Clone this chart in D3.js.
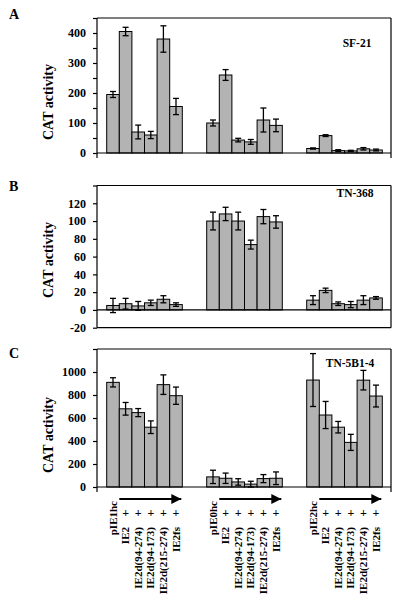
<!DOCTYPE html>
<html><head><meta charset="utf-8">
<script src="https://cdn.jsdelivr.net/npm/d3@7"></script>
<style>
body{margin:0;background:#fff;}
text{font-family:"Liberation Serif","Times New Roman",serif;}
</style></head>
<body><svg id="c" width="400" height="603"></svg>
<script>
const groups = ["pIE1hc","pIE0hc","pIE2hc"];
const constructs = ["", "IE2","IE2d(94-274)","IE2d(94-173)","IE2d(215-274)","IE2fs"];
const cellLines = ["SF-21","TN-368","TN-5B1-4"];
const panelLetters = ["A","B","C"];

const valuesA = [[195,405,70,60,380,155],[100,260,43,37,110,92],[15,58,8,7,14,10]];
const errorsA = [[10,14,23,12,44,27],[10,18,6,8,40,21],[2,3,3,2,4,3]];
const valuesB = [[5,7,4.5,8,12,6],[100,108,100,73.5,105,99],[11,22,7,6,11,13.5]];
const errorsB = [[8,6,5,3,4,2],[10,7.5,10,5,8,7],[5,2.5,2,3.5,5,1.5]];
const valuesC = [[910,680,647,520,890,794],[88,76,44,25,73,76],[930,626,520,388,929,791]];
const errorsC = [[40,55,35,55,85,75],[58,45,28,25,35,55],[230,118,50,70,85,95]];

const ticksA = [0,50,100,150,200,250,300,350,400,450];
const labelsA = [0,100,200,300,400];
const ticksB = [-20,0,20,40,60,80,100,120,140];
const ticksC = [0,200,400,600,800,1000,1200];

const svg = d3.select("#c");
const L = 97, R = 391;

const x0 = d3.scaleBand().domain(groups).range([94.5, 394.5]);
const x1 = d3.scaleBand().domain(d3.range(6)).range([12.2, 87.8]);

const panels = [
  {vals: valuesA, errs: errorsA, domain:[0,450], range:[153,18], ticks: ticksA, labels: labelsA, labelY: 102, cellX: 357, cellY: 47, letterY: 19},
  {vals: valuesB, errs: errorsB, domain:[-20,140], range:[327.7,185.5], ticks: ticksB, labels: ticksB.filter(d=>d<140), labelY: 260, cellX: 355, cellY: 197, letterY: 191, boxed:true},
  {vals: valuesC, errs: errorsC, domain:[0,1200], range:[487,349], ticks: ticksC, labels: ticksC.filter(d=>d<1200), labelY: 435, cellX: 350, cellY: 367, letterY: 358}
];

panels.forEach((p, pi) => {
  const y = d3.scaleLinear().domain(p.domain).range(p.range);
  const g = svg.append("g");
  const top = p.range[1];
  const zero = y(0);
  const bottom = p.boxed ? p.range[0] : zero + 5;

  // frame
  g.append("line").attr("x1", L).attr("x2", R).attr("y1", top).attr("y2", top).attr("stroke", "#000").attr("stroke-width", 1.2);
  g.append("line").attr("x1", R).attr("x2", R).attr("y1", top).attr("y2", bottom).attr("stroke", "#000").attr("stroke-width", 1.2);
  if (p.boxed) g.append("line").attr("x1", L).attr("x2", R).attr("y1", bottom).attr("y2", bottom).attr("stroke", "#000").attr("stroke-width", 1.2);

  // y axis
  const ax = d3.axisLeft(y).tickValues(p.ticks).tickSize(4).tickSizeOuter(0)
    .tickFormat(d => p.labels.includes(d) ? d : "");
  const ag = g.append("g").attr("transform", `translate(${L},0)`).call(ax);
  ag.select(".domain").remove();
  ag.selectAll(".tick line").attr("stroke", "#000").attr("stroke-width", 1.2);
  ag.selectAll(".tick text").attr("x", -11).attr("font-size", 12).attr("font-weight", "bold")
    .attr("font-family", "Liberation Serif").attr("fill", "#000");
  g.append("line").attr("x1", L).attr("x2", L).attr("y1", top).attr("y2", bottom).attr("stroke", "#000").attr("stroke-width", 1.2);

  // bars
  groups.forEach((grp, gi) => {
    p.vals[gi].forEach((v, bi) => {
      const bx = x0(grp) + x1(bi);
      const bw = x1.bandwidth();
      g.append("rect").attr("x", bx).attr("width", bw)
        .attr("y", Math.min(y(v), zero)).attr("height", Math.abs(zero - y(v)))
        .attr("fill", "#b3b3b3").attr("stroke", "#000").attr("stroke-width", 1);
    });
  });
  // zero line
  g.append("line").attr("x1", L).attr("x2", R).attr("y1", zero).attr("y2", zero).attr("stroke", "#000").attr("stroke-width", 1.2);
  // error bars
  groups.forEach((grp, gi) => {
    p.vals[gi].forEach((v, bi) => {
      const e = p.errs[gi][bi];
      const cx = x0(grp) + x1(bi) + x1.bandwidth() / 2;
      const eg = g.append("g").attr("stroke", "#000").attr("stroke-width", 1.3);
      eg.append("line").attr("x1", cx).attr("x2", cx).attr("y1", y(v - e)).attr("y2", y(v + e));
      eg.append("line").attr("x1", cx - 3).attr("x2", cx + 3).attr("y1", y(v - e)).attr("y2", y(v - e));
      eg.append("line").attr("x1", cx - 3).attr("x2", cx + 3).attr("y1", y(v + e)).attr("y2", y(v + e));
    });
  });

  // y label
  g.append("text").attr("transform", `translate(53,${p.labelY}) rotate(-90)`)
    .attr("text-anchor", "middle").attr("font-size", 14).attr("font-weight", "bold").text("CAT activity");
  // cell line label
  g.append("text").attr("x", p.cellX).attr("y", p.cellY).attr("text-anchor", "middle")
    .attr("font-size", 11.5).attr("font-weight", "bold").text(cellLines[pi]);
  // panel letter
  g.append("text").attr("x", 9).attr("y", p.letterY).attr("font-size", 14).attr("font-weight", "bold").text(panelLetters[pi]);
});

// arrows and construct labels under panel C
const ay = 499;
svg.append("defs").append("marker").attr("id", "ah").attr("viewBox", "0 0 10 10")
  .attr("refX", 10).attr("refY", 5).attr("markerWidth", 8).attr("markerHeight", 5)
  .attr("markerUnits", "strokeWidth").attr("orient", "auto")
  .append("path").attr("d", "M0,0 L10,5 L0,10 Z").attr("fill", "#000");

groups.forEach((grp, gi) => {
  const xs = x0(grp) + x1(1);
  const xe = x0(grp) + x1(5) + x1.bandwidth();
  svg.append("line").attr("x1", xs).attr("x2", xe - 1).attr("y1", ay).attr("y2", ay)
    .attr("stroke", "#000").attr("stroke-width", 2).attr("marker-end", "url(#ah)");
  constructs.forEach((c, bi) => {
    const cx = x0(grp) + x1(bi) + x1.bandwidth() / 2;
    if (bi === 0) {
      svg.append("text").attr("transform", `translate(${cx + 3.5},501) rotate(-90)`)
        .attr("text-anchor", "end").attr("font-size", 11).attr("font-weight", "bold").text(grp);
    } else {
      svg.append("text").attr("x", cx).attr("y", 517).attr("text-anchor", "middle")
        .attr("font-size", 12).attr("font-weight", "bold").text("+");
      svg.append("text").attr("transform", `translate(${cx + 3.5},527) rotate(-90)`)
        .attr("text-anchor", "end").attr("font-size", 11).attr("font-weight", "bold").text(c);
    }
  });
});
</script></body></html>
